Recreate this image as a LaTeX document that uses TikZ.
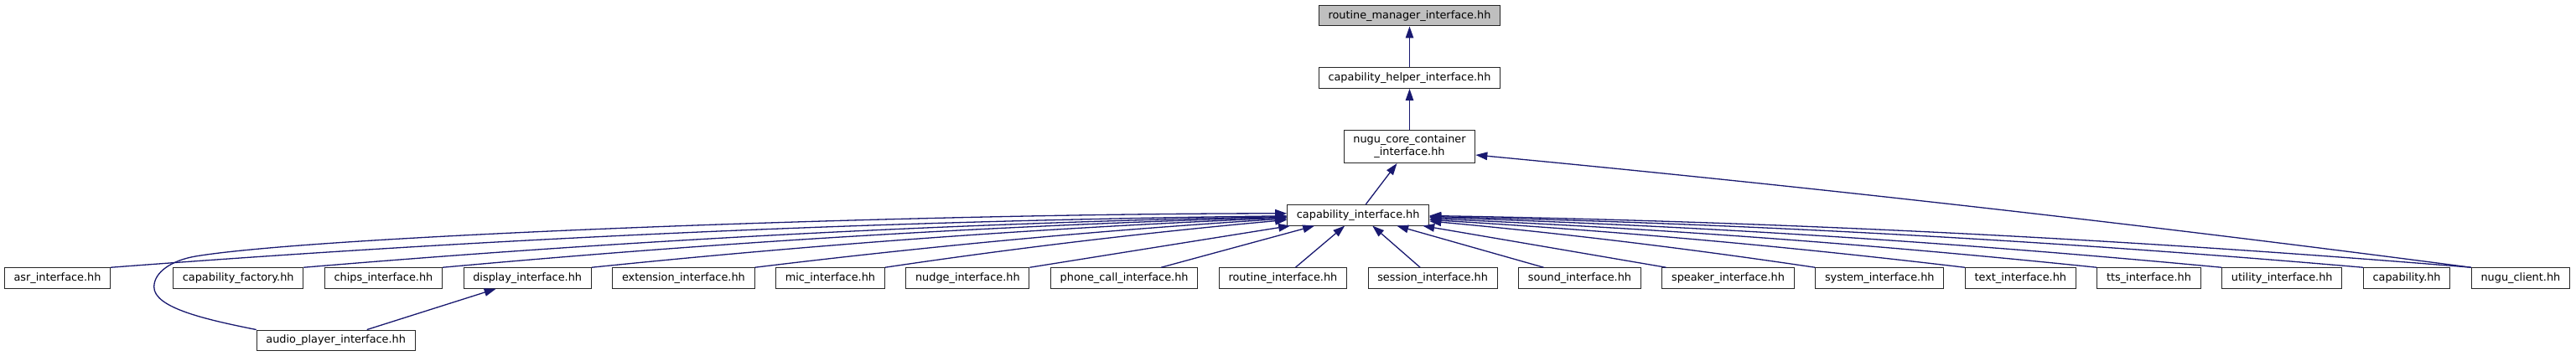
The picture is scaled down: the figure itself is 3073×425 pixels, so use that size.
\documentclass[tikz,border=0pt]{standalone}
\usepackage{fontspec}
\setmainfont{DejaVu Sans}
\usetikzlibrary{arrows.meta,positioning}
\definecolor{edgeblue}{HTML}{191970}
\definecolor{rootfill}{HTML}{BFBFBF}
\tikzset{
  file/.style={draw=black!85, line width=1pt, rectangle, inner xsep=11.2pt,
    inner ysep=2pt, minimum height=24.5pt, align=center,
    font=\fontsize{12.85pt}{15pt}\selectfont},
  root/.style={file, fill=rootfill},
  dep/.style={draw=edgeblue, line width=1.3pt, -{Triangle[length=14pt,width=9.5pt]}},
}

\begin{document}
\begin{tikzpicture}[x=1pt, y=-1pt, node distance=49pt and 24.6pt, every node/.style={file}]
    \path[use as bounding box, fill=white] (0,0) rectangle (3073,425);
    % upper chain
    \node[minimum height=39pt] (ncc) at (1681.5,175) {nugu\_core\_container\\\_interface.hh};
    \node[above=of ncc] (chlp) {capability\_helper\_interface.hh};
    \node[above=of chlp, root] (rm) {routine\_manager\_interface.hh};
    \node (ci) at (1620.2,256.8) {capability\_interface.hh};
    % bottom row
    \node (asr) at (68.5,332) {asr\_interface.hh};
    \node[right=74pt of asr] (cfac) {capability\_factory.hh};
    \node[right=of cfac] (chips) {chips\_interface.hh};
    \node[right=of chips] (disp) {display\_interface.hh};
    \node[right=of disp] (ext) {extension\_interface.hh};
    \node[right=of ext] (mic) {mic\_interface.hh};
    \node[right=of mic] (nudge) {nudge\_interface.hh};
    \node[right=of nudge] (phone) {phone\_call\_interface.hh};
    \node[right=of phone] (rtn) {routine\_interface.hh};
    \node[right=of rtn] (sess) {session\_interface.hh};
    \node[right=of sess] (sound) {sound\_interface.hh};
    \node[right=of sound] (spk) {speaker\_interface.hh};
    \node[right=of spk] (sys) {system\_interface.hh};
    \node[right=of sys] (txt) {text\_interface.hh};
    \node[right=of txt] (tts) {tts\_interface.hh};
    \node[right=of tts] (util) {utility\_interface.hh};
    \node[right=of util] (cap) {capability.hh};
    \node[right=of cap] (nugu) {nugu\_client.hh};
    \node (ap) at (400.7,406.3) {audio\_player\_interface.hh};
    % includes
    \draw[dep] (chlp) -- (rm);
    \draw[dep] (ncc) -- (chlp);
    \draw[dep] ([xshift=9pt]ci.north) -- ([xshift=-15pt]ncc.south);
    \draw[dep] (nugu.north west) .. controls +(-396.6,-52) and +(396.6,37.7) .. ([yshift=-10pt]ncc.east);
    % left fan
    \draw[dep] (ap.north west) .. controls +(-60,-12) and +(0,25) .. ++(-122,-51)
        .. controls +(0,-18) and +(-28,4.7) .. ++(49.7,-36.6)
        .. controls +(150,-25) and +(-435,0) .. ([yshift=2pt]ci.west);
    \draw[dep] (asr.north east) .. controls +(468,-35.8) and +(-468,5.3) .. ([yshift=-1pt]ci.west);
    \draw[dep] (cfac.north east) .. controls +(390,-32.8) and +(-390,7.7) .. ([yshift=-1.7pt]ci.west);
    \draw[dep] (chips.north east) .. controls +(335,-30.6) and +(-335,9.4) .. ([yshift=-2.5pt]ci.west);
    \draw[dep] (disp.north east) .. controls +(275,-28.3) and +(-275,11.3) .. ([yshift=-3.2pt]ci.west);
    \draw[dep] (ext.north east) .. controls +(211,-25.8) and +(-211,13) .. ([yshift=-4.2pt]ci.west);
    \draw[dep] (mic.north east) .. controls +(159,-23.7) and +(-159,14.2) .. ([yshift=-5.7pt]ci.west);
    % straight below
    \draw[dep] (nudge.north east) -- ([xshift=4pt]ci.south west);
    \draw[dep] ([xshift=44pt]phone.north) -- ([xshift=33pt]ci.south west);
    \draw[dep] ([xshift=15pt]rtn.north) -- ([xshift=-16pt]ci.south);
    \draw[dep] ([xshift=-15pt]sess.north) -- ([xshift=17pt]ci.south);
    \draw[dep] ([xshift=-43pt]sound.north) -- ([xshift=46pt]ci.south);
    \draw[dep] ([xshift=-74pt]spk.north) -- ([xshift=-8pt]ci.south east);
    % right fan
    \draw[dep] (sys.north west) .. controls +(-154,-22.9) and +(154,14) .. ([yshift=-7.2pt]ci.east);
    \draw[dep] (txt.north west) .. controls +(-213,-25.4) and +(213,12.5) .. ([yshift=-5.7pt]ci.east);
    \draw[dep] (tts.north west) .. controls +(-266,-27.6) and +(266,11.3) .. ([yshift=-4.2pt]ci.east);
    \draw[dep] (util.north west) .. controls +(-316,-29.9) and +(316,10) .. ([yshift=-2.7pt]ci.east);
    \draw[dep] (cap.north west) .. controls +(-372,-32.2) and +(372,8.3) .. ([yshift=-1.7pt]ci.east);
    \draw[dep] (nugu.north west) .. controls +(-415,-34.2) and +(415,7) .. ([yshift=-0.7pt]ci.east);
    % second level
    \draw[dep] ([xshift=37pt]ap.north) -- ([xshift=-37.5pt]disp.south);
\end{tikzpicture}
\end{document}
